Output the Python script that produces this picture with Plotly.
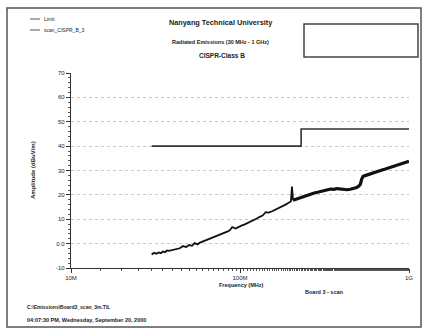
import plotly.graph_objects as go

# ---- data ----
limit_freq = [30, 230, 230, 1000]
limit_db = [40, 40, 47, 47]

scan_freq = [30, 31, 32, 33, 34, 35, 36, 37, 38, 40, 42, 44, 46, 48, 50, 52, 54, 56, 58, 60,
             63, 66, 69, 72, 75, 78, 81, 84, 87, 90, 94, 98, 102, 106, 110, 115, 120, 125, 130,
             136, 142, 148, 155, 162, 170, 178, 186, 195, 200, 203, 206, 212, 220, 230, 240, 250,
             262, 275, 288, 300, 315, 330, 345, 360, 375, 390, 410, 430, 450, 470, 490, 505, 515,
             525, 535, 550, 570, 590, 610, 630, 650, 675, 700, 725, 750, 780, 810, 840, 870, 900,
             930, 960, 1000]
scan_db = [-4.5, -3.8, -4.2, -3.6, -3.9, -3.2, -3.5, -2.8, -3.0, -2.6, -2.2, -1.9, -1.0, -1.4, -0.6,
           -0.9, 0.2, -0.3, 0.4, 0.8, 1.4, 1.9, 2.6, 3.1, 3.6, 4.0, 4.6, 4.9, 5.5, 6.8, 6.2, 6.9, 7.4,
           7.8, 8.3, 8.8, 9.6, 10.2, 10.9, 11.5, 12.9, 12.7, 13.3, 13.9, 14.6, 15.4, 16.0, 16.9, 17.3,
           23.4, 17.8, 18.1, 18.6, 19.1, 19.5, 20.0, 20.4, 20.8, 21.1, 21.5, 21.8, 22.1, 22.4, 22.3,
           22.6, 22.4, 22.2, 22.1, 22.3, 22.6, 23.0, 23.6, 24.3, 26.5, 27.6, 27.9, 28.3, 28.6, 29.0,
           29.2, 29.6, 29.9, 30.3, 30.6, 30.9, 31.4, 31.7, 32.0, 32.4, 32.8, 33.1, 33.4, 33.8]

y_ticks = [-10, 0, 10, 20, 30, 40, 50, 60, 70]
y_tick_labels = ["-10", "0.0", "10", "20", "30", "40", "50", "60", "70"]
x_ticks = [10, 100, 1000]
x_tick_labels = ["10M", "100M", "1G"]

W, H = 426, 331
L, R, T, B = 71, 409, 73, 268


def px(x):
    return (x - L) / (R - L)


def py(y):
    return (B - y) / (B - T)


FONT = "Liberation Sans"
fig = go.Figure()
fig.add_trace(go.Scatter(x=limit_freq, y=limit_db, mode="lines",
                         line=dict(color="#333333", width=1.6), name="Limit"))
# the scan trace: thinner in the lower band, denser/thicker above ~200 MHz (as in the plot)
split = scan_freq.index(206)
fig.add_trace(go.Scatter(x=scan_freq[:split + 1], y=scan_db[:split + 1], mode="lines",
                         line=dict(color="#111111", width=1.8), name="scan"))
fig.add_trace(go.Scatter(x=scan_freq[split:], y=scan_db[split:], mode="lines",
                         line=dict(color="#111111", width=3.2), name="scan"))

fig.update_layout(
    width=W, height=H, showlegend=False,
    margin=dict(l=L, r=W - R, t=T, b=H - B),
    paper_bgcolor="white", plot_bgcolor="white",
    font=dict(family=FONT, size=6, color="#222"),
)
fig.update_xaxes(type="log", range=[1, 3], tickvals=x_ticks, ticktext=x_tick_labels,
                 showgrid=False, showline=True, linecolor="#333", linewidth=1.2,
                 ticks="outside", ticklen=4, tickcolor="#333",
                 tickfont=dict(size=6, family=FONT, color="#222"),
                 minor=dict(ticks="outside", ticklen=2, tickcolor="#555", showgrid=False),
                 zeroline=False)
fig.update_yaxes(range=[-10, 70], tickvals=y_ticks, ticktext=y_tick_labels,
                 showgrid=True, gridcolor="#c8c8c8", griddash="dot", gridwidth=1,
                 showline=True, linecolor="#333", linewidth=1.2,
                 ticks="outside", ticklen=4, tickcolor="#333",
                 tickfont=dict(size=6, family=FONT, color="#222"),
                 minor=dict(dtick=2, ticks="outside", ticklen=2, tickcolor="#555", showgrid=False),
                 zeroline=False)

shapes = [
    dict(type="rect", xref="paper", yref="paper", x0=px(7), x1=px(421), y0=py(327), y1=py(8),
         line=dict(color="#555", width=1.5)),
    dict(type="rect", xref="paper", yref="paper", x0=px(304), x1=px(418), y0=py(57), y1=py(24),
         line=dict(color="#444", width=1.5)),
    dict(type="line", xref="paper", yref="paper", x0=px(30), x1=px(40), y0=py(19), y1=py(19),
         line=dict(color="#555", width=1)),
    dict(type="line", xref="paper", yref="paper", x0=px(30), x1=px(40), y0=py(30), y1=py(30),
         line=dict(color="#555", width=1)),
]
fig.update_layout(shapes=shapes)


def ann(text, x, y, size=6, bold=False, xanchor="center", angle=0):
    fig.add_annotation(text=f"<b>{text}</b>" if bold else text, xref="paper", yref="paper",
                       x=px(x), y=py(y), showarrow=False, xanchor=xanchor, yanchor="middle",
                       textangle=angle, font=dict(size=size, family=FONT, color="#222"))


ann("Nanyang Technical University", 221, 22, size=7.3, bold=True)
ann("Radiated Emissions (30 MHz - 1 GHz)", 220, 42, size=5.5, bold=True)
ann("CISPR-Class B", 222, 55, size=6.5, bold=True)
ann("Limit", 42, 19, size=5, xanchor="left")
ann("scan_CISPR_B_3", 42, 30, size=5, xanchor="left")
ann("Amplitude (dBuV/m)", 33, 170, size=6, bold=True, angle=-90)
ann("Frequency (MHz)", 241, 285, size=5.5, bold=True)
ann("Board 3 - scan", 324, 292, size=5.5, bold=True)
ann("C:\\Emissions\\Board3_scan_3m.TIL", 25, 307, size=5, bold=True, xanchor="left")
ann("04:07:30 PM, Wednesday, September 20, 2000", 25, 320, size=5.5, bold=True, xanchor="left")

fig.write_html("out.html", config={"displayModeBar": False},
               post_script="document.body.style.margin='0';")
